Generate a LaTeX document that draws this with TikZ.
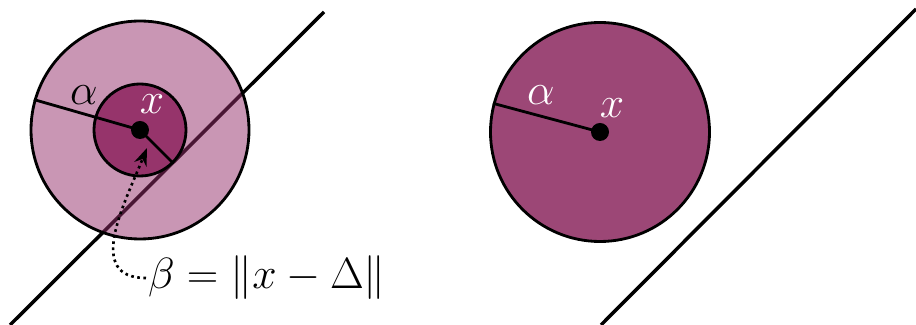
\documentclass[tikz,border=0pt]{standalone}
\usepackage{xcolor}
\usepackage{tikz}
\usetikzlibrary{arrows.meta,positioning,calc}
\definecolor{plum}{HTML}{932D69}
\definecolor{wine}{HTML}{96346B}
\definecolor{berry}{HTML}{9C4776}

\begin{document}
\begin{tikzpicture}[
  disc/.style={circle, draw=black, line width=1.6pt, inner sep=0pt},
  ray/.style={line width=1.6pt},
  wall/.style={line width=2pt},
  dot/.style={circle, fill=black, inner sep=0pt, minimum size=0.36cm},
  lbl/.style={font=\Huge, inner sep=1pt}
]
  \useasboundingbox (0,0) rectangle (18.32,6.5);
  \coordinate (w1a) at (0.2,0);
  \coordinate (w1b) at (6.48,6.26);
  \coordinate (w2a) at (12.02,0);
  \coordinate (w2b) at (18.32,6.32);
  \draw[wall] (w1a) -- (w1b);
  \draw[wall] (w2a) -- (w2b);

  \node[disc, fill=plum, fill opacity=0.5, draw opacity=1, minimum size=4.36cm] (outer) at (2.8,3.9) {};
  \node[disc, fill=wine, minimum size=1.84cm] (inner) at (2.8,3.9) {};
  \node[dot] (x1) at (2.8,3.9) {};
  \draw[ray] (x1.center) -- (outer.164);
  \draw[ray] (x1.center) -- (inner.-45);
  \node[lbl] (a1) at (1.68,4.6) {$\alpha$};
  \node[lbl, text=white] (l1) at (3.04,4.42) {$x$};

  \node[lbl, anchor=west] (beta) at (2.92,0.94) {$\beta = \|x - \Delta\|$};
  \coordinate (tip) at ($(x1.center)+(0.14,-0.36)$);
  \draw[line width=1.5pt, dotted, -{Stealth[length=3.5mm, width=2.6mm]}] (beta.west) to[out=180, in=-112, looseness=1.2] (tip);

  \node[disc, fill=berry, minimum size=4.38cm] (right) at (12.0,3.86) {};
  \node[dot] (x2) at (12.0,3.86) {};
  \draw[ray] (x2.center) -- (right.165);
  \node[lbl, text=white] (a2) at (10.82,4.6) {$\alpha$};
  \node[lbl, text=white] (l2) at (12.24,4.34) {$x$};
\end{tikzpicture}
\end{document}
